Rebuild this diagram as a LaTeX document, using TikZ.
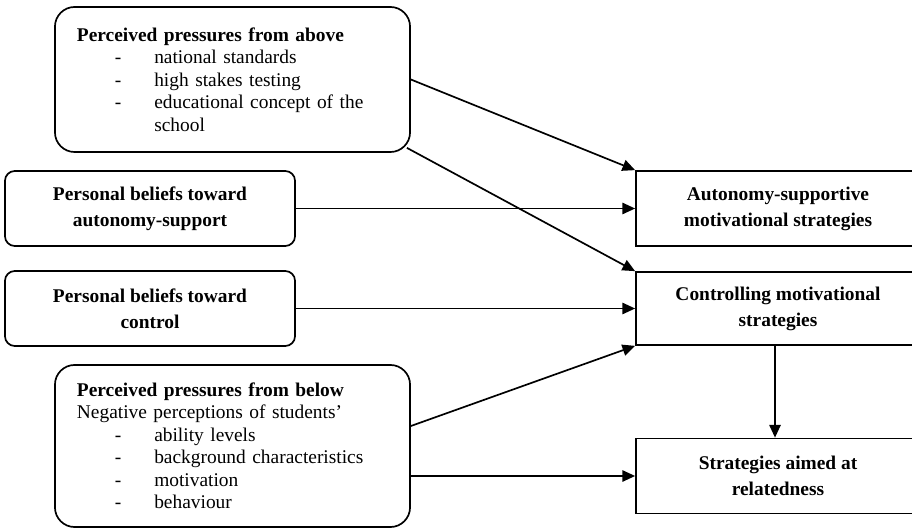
\documentclass[tikz,border=0pt]{standalone}
\usepackage{fontspec}
\setmainfont{Liberation Serif}
\usetikzlibrary{arrows.meta,calc}

\newcommand{\itm}[1]{\makebox[55pt][l]{\hspace*{27pt}-}#1}

\begin{document}
\begin{tikzpicture}[x=0.025cm, y=-0.025cm, line width=1.2pt,
  >={Triangle[length=9pt,width=8pt]},
  pressbox/.style={draw, rounded corners=14pt, align=left, inner xsep=0.55cm,
    text width=7.775cm, minimum width=8.875cm,
    font=\fontsize{13.8}{16}\selectfont},
  beliefbox/.style={draw, rounded corners=7pt, align=center,
    minimum width=7.25cm, minimum height=1.875cm,
    font=\fontsize{13.8}{18.5}\selectfont\bfseries},
  stratbox/.style={draw, align=center, minimum width=7.1cm, minimum height=1.875cm,
    font=\fontsize{13.8}{18.5}\selectfont\bfseries}]

\useasboundingbox (0,0) rectangle (912,530);

\node[pressbox, minimum height=3.625cm] (above) at (232.5,79.5) {\textbf{Perceived pressures from above}\\
  \itm{national standards}\\
  \itm{high stakes testing}\\
  \itm{educational concept of the}\\
  \hspace*{55pt}school};
\node[beliefbox] (autobel) at (150,208.5) {Personal beliefs toward\\autonomy-support};
\node[beliefbox] (ctrlbel) at (150,308.5) {Personal beliefs toward\\control};
\node[pressbox, minimum height=4.05cm] (below) at (232.5,446) {\textbf{Perceived pressures from below}\\
  Negative perceptions of students'\\
  \itm{ability levels}\\
  \itm{background characteristics}\\
  \itm{motivation}\\
  \itm{behaviour}};

\node[stratbox] (auto) at (778,208.5) {Autonomy-supportive\\motivational strategies};
\node[stratbox, minimum height=1.825cm] (ctrl) at (778,308.5) {Controlling motivational\\strategies};
\node[stratbox] (rel) at (778,476) {Strategies aimed at\\relatedness};

\draw[->] (above.east) -- (auto.north west);
\draw[->] ($(above.south east)+(-4,-5)$) -- (ctrl.north west);
\draw[->] (autobel) -- (auto);
\draw[->] (ctrlbel) -- (ctrl);
\draw[->] ($(below.east)+(0,-20)$) -- (ctrl.south west);
\draw[->] (below.east |- rel.west) -- (rel.west);
\draw[->] ([xshift=-3*0.025cm]ctrl.south) -- ([xshift=-3*0.025cm]rel.north);
\end{tikzpicture}
\end{document}
